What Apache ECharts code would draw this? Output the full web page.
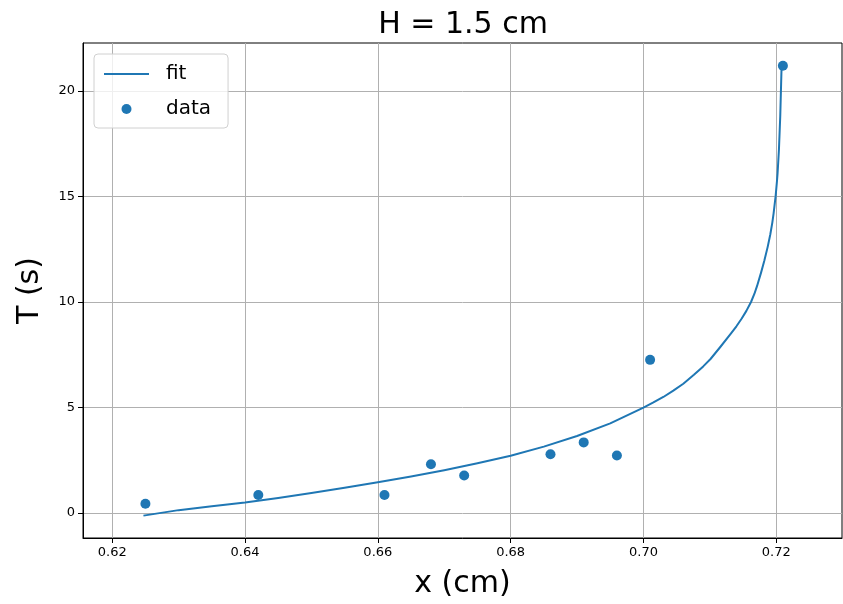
<!DOCTYPE html>
<html>
<head>
<meta charset="utf-8">
<script src="https://cdn.jsdelivr.net/npm/echarts@6/dist/echarts.min.js"></script>
<style>
	html, body {margin: 0; padding: 0; background: #fff;}
	#chart {width: 843px; height: 604px;}
</style>
</head>
<body>
<div id="chart"></div>
<script>
	// measured points (x in cm, T in s)
	var dataX = [0.625, 0.642, 0.661, 0.668, 0.673, 0.686, 0.691, 0.696, 0.701, 0.721];
	var dataT = [0.44, 0.86, 0.86, 2.31, 1.78, 2.79, 3.35, 2.73, 7.26, 21.19];

	// fit curve
	var fitX = [0.6247, 0.63, 0.635, 0.64, 0.645, 0.65, 0.655, 0.66, 0.665, 0.67, 0.675, 0.68, 0.685, 0.69, 0.695, 0.70,
		0.7015, 0.703, 0.7045, 0.706, 0.7076, 0.709, 0.7101, 0.7116, 0.7131, 0.714, 0.7148, 0.7155, 0.7162, 0.7167,
		0.7171, 0.7177, 0.7182, 0.7187, 0.7191, 0.7194, 0.7196, 0.7199, 0.7201, 0.7202, 0.7204, 0.7206, 0.7208];
	var fitT = [-0.12, 0.14, 0.32, 0.5, 0.72, 0.95, 1.2, 1.46, 1.73, 2.03, 2.36, 2.72, 3.15, 3.65, 4.25, 5.0,
		5.24, 5.5, 5.8, 6.13, 6.55, 6.95, 7.3, 7.88, 8.48, 8.85, 9.22, 9.58, 10.0, 10.38,
		10.75, 11.38, 11.95, 12.6, 13.2, 13.75, 14.2, 15.0, 15.7, 16.1, 17.2, 18.8, 21.15];

	var xTicks = [0.62, 0.64, 0.66, 0.68, 0.70, 0.72];
	var yTicks = [0, 5, 10, 15, 20];

	var fitData = [];
	for (var i = 0; i < fitX.length; i++) {
		fitData.push([fitX[i], fitT[i]]);
	}
	var pointData = [];
	for (var j = 0; j < dataX.length; j++) {
		pointData.push([dataX[j], dataT[j]]);
	}

	var font = 'DejaVu Sans';
	var chart = echarts.init(document.getElementById('chart'));
	chart.setOption({
		animation: false,
		title: {
			text: 'H = 1.5 cm',
			left: 458,
			textAlign: 'center',
			top: 5,
			textStyle: {fontFamily: font, fontSize: 30, fontWeight: 'normal', color: '#000'}
		},
		legend: {
			orient: 'vertical',
			left: 94,
			top: 54,
			padding: [10, 17, 9, 9],
			itemGap: 15,
			itemWidth: 45,
			itemHeight: 10,
			backgroundColor: 'rgba(255,255,255,0.8)',
			borderColor: '#d0d0d0',
			borderWidth: 1,
			borderRadius: 4,
			textStyle: {fontFamily: font, fontSize: 20, color: '#000', padding: [0, 0, 0, 12]},
			data: [{name: 'fit', itemStyle: {opacity: 0}}, {name: 'data', icon: 'circle'}]
		},
		grid: {
			left: 83,
			right: 1,
			top: 43,
			bottom: 66,
			show: true,
			borderColor: '#000',
			borderWidth: 1
		},
		xAxis: {
			type: 'value',
			min: 0.6156,
			max: 0.7299,
			name: 'x (cm)',
			nameLocation: 'middle',
			nameGap: 31,
			nameTextStyle: {fontFamily: font, fontSize: 30, color: '#000'},
			axisLine: {onZero: false, lineStyle: {color: '#000'}},
			axisTick: {customValues: xTicks, length: 5, lineStyle: {color: '#000'}},
			axisLabel: {
				customValues: xTicks,
				fontFamily: font, fontSize: 13, color: '#000', margin: 8,
				formatter: function (v) { return v.toFixed(2); }
			},
			splitLine: {show: true, lineStyle: {color: '#b0b0b0', width: 1}}
		},
		yAxis: {
			type: 'value',
			min: -1.18,
			max: 22.27,
			name: 'T (s)',
			nameLocation: 'middle',
			nameGap: 38,
			nameTextStyle: {fontFamily: font, fontSize: 30, color: '#000'},
			axisLine: {onZero: false, lineStyle: {color: '#000'}},
			axisTick: {customValues: yTicks, length: 5, lineStyle: {color: '#000'}},
			axisLabel: {customValues: yTicks, fontFamily: font, fontSize: 13, color: '#000', margin: 8},
			splitLine: {show: true, lineStyle: {color: '#b0b0b0', width: 1}}
		},
		series: [
			{
				name: 'fit',
				type: 'line',
				symbol: 'none',
				smooth: false,
				color: '#1f77b4',
				lineStyle: {width: 2, color: '#1f77b4', join: 'round'},
				data: fitData
			},
			{
				name: 'data',
				type: 'scatter',
				symbol: 'circle',
				symbolSize: 10,
				color: '#1f77b4',
				itemStyle: {opacity: 1},
				data: pointData
			}
		]
	});
</script>
</body>
</html>
